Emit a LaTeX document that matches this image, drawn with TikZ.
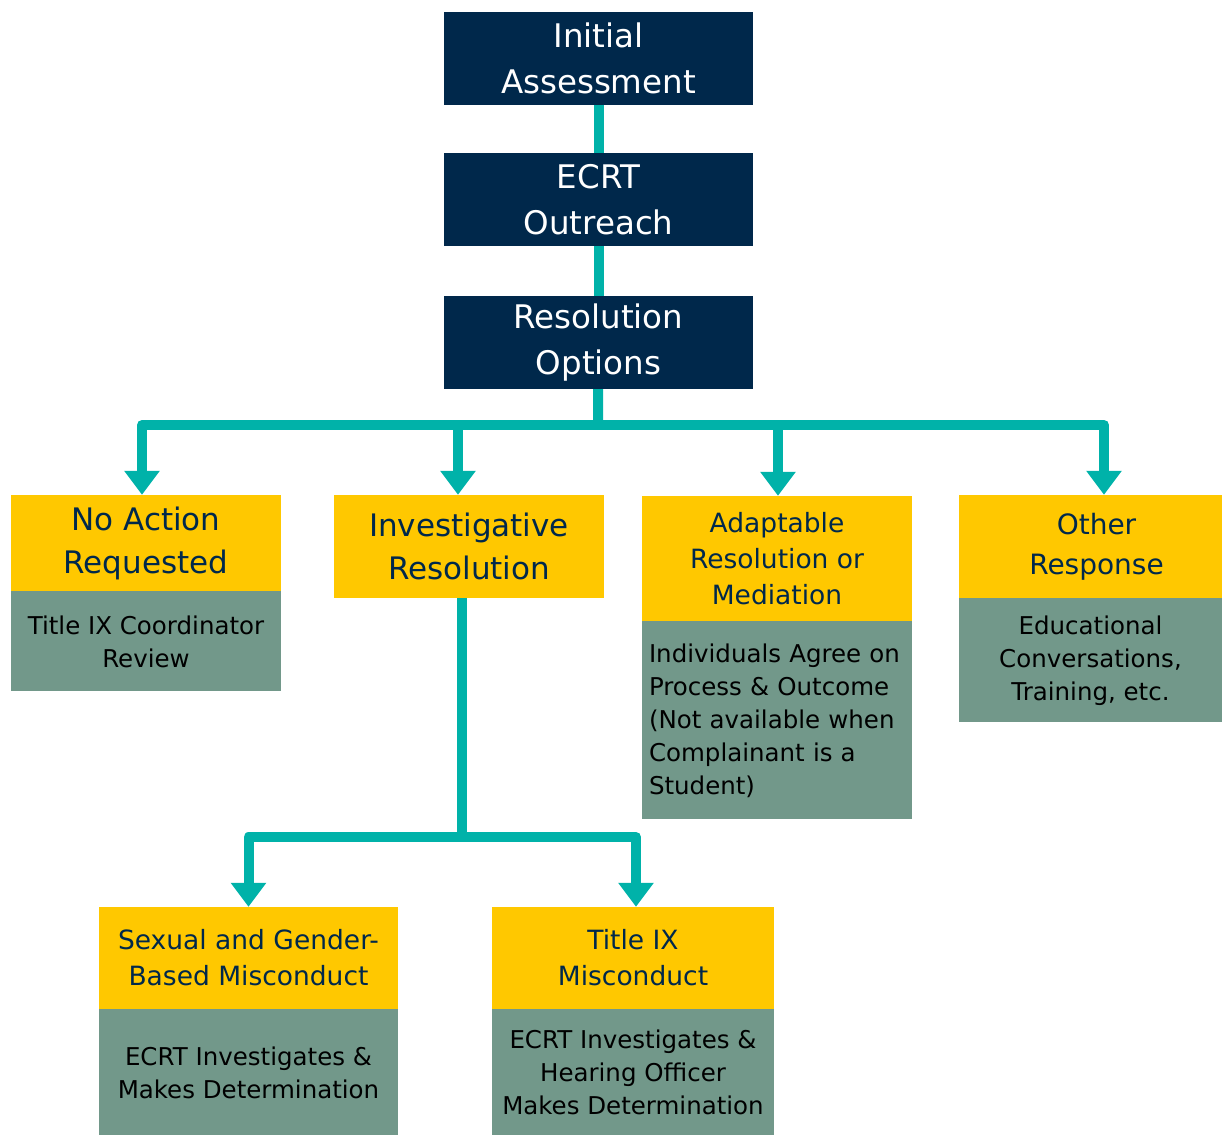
\documentclass[tikz,border=0pt]{standalone}
\usepackage{fontspec}
\setmainfont{DejaVu Sans}
\usetikzlibrary{arrows.meta, positioning}

\definecolor{navy}{HTML}{00284B}
\definecolor{gold}{HTML}{FFC800}
\definecolor{sage}{HTML}{72988A}
\definecolor{flowteal}{HTML}{00B2A9}

\tikzset{
	stepbox/.style={fill=navy, text=white, minimum width=309pt, minimum height=93pt, inner sep=0pt, align=center, font=\fontsize{32.5}{46}\selectfont},
	optbox/.style={fill=gold, text=navy, inner sep=0pt, align=center, font=\fontsize{31}{43}\selectfont},
	optsmall/.style={optbox, font=\fontsize{26.5}{36}\selectfont},
	notebox/.style={fill=sage, text=black, inner sep=0pt, align=center, font=\fontsize{24.5}{33}\selectfont},
	link/.style={draw=flowteal, line width=10pt, line join=round},
	arr/.style={link, -{Triangle[width=34pt,length=24pt]}},
}

\begin{document}
\begin{tikzpicture}[x=1pt, y=-1pt]
			\useasboundingbox (0,0) rectangle (1223,1136);
			
			% main steps
			\node[stepbox] (init) at (598.5,58) {Initial\\Assessment};
			\node[stepbox] (ecrt) at (598.5,199.5) {ECRT\\Outreach};
			\node[stepbox] (resol) at (598.5,342.5) {Resolution\\Options};
			
			% resolution options
			\node[optbox, minimum width=270pt, minimum height=96pt] (noact) at (146,543) {No Action\\Requested};
			\node[notebox, minimum width=270pt, minimum height=100pt, below=0pt of noact] (noactn) {Title IX Coordinator\\Review};
			
			\node[optbox, minimum width=270pt, minimum height=103pt] (invest) at (469,546.5) {Investigative\\Resolution};
			
			\node[optsmall, minimum width=270pt, minimum height=125pt] (adapt) at (777,558.5) {Adaptable\\Resolution or\\Mediation};
			\node[notebox, align=left, text width=256pt, inner xsep=7pt, minimum height=198pt, below=0pt of adapt] (adaptn) {Individuals Agree on\\Process \& Outcome\\(Not available when\\Complainant is a\\Student)};
			
			\node[optbox, minimum width=263pt, minimum height=103pt, font=\fontsize{28}{40}\selectfont] (other) at (1090.5,546.5) {\hspace*{12pt}Other\\\hspace*{12pt}Response};
			\node[notebox, minimum width=263pt, minimum height=124pt, below=0pt of other] (othern) {Educational\\Conversations,\\Training, etc.};
			
			% investigative branches
			\node[optsmall, minimum width=299pt, minimum height=102pt] (sgbm) at (248.5,958) {Sexual and Gender-\\Based Misconduct};
			\node[notebox, minimum width=299pt, minimum height=126pt, below=0pt of sgbm] (sgbmn) {ECRT Investigates \&\\Makes Determination};
			
			\node[optsmall, minimum width=282pt, minimum height=102pt] (tix) at (633,958) {Title IX\\Misconduct};
			\node[notebox, minimum width=282pt, minimum height=126pt, below=0pt of tix] (tixn) {ECRT Investigates \&\\Hearing Officer\\Makes Determination};
			
			% connectors
			\coordinate (fork) at (598,425);
			\coordinate (fork2) at (462,837);
			
			\draw[link] (init) -- (ecrt);
			\draw[link] (ecrt) -- (resol);
			\draw[link] (resol) -- (fork);
			\draw[arr] (fork) -| ([xshift=-4pt]noact.north);
			\draw[arr] (fork) -| ([xshift=-11pt]invest.north);
			\draw[arr] (fork) -| ([xshift=1pt]adapt.north);
			\draw[arr] (fork) -| ([xshift=13.5pt]other.north);
			
			\draw[link] ([xshift=-7pt]invest.south) -- (fork2);
			\draw[arr] (fork2) -| (sgbm.north);
			\draw[arr] (fork2) -| ([xshift=3pt]tix.north);
		\end{tikzpicture}
\end{document}
